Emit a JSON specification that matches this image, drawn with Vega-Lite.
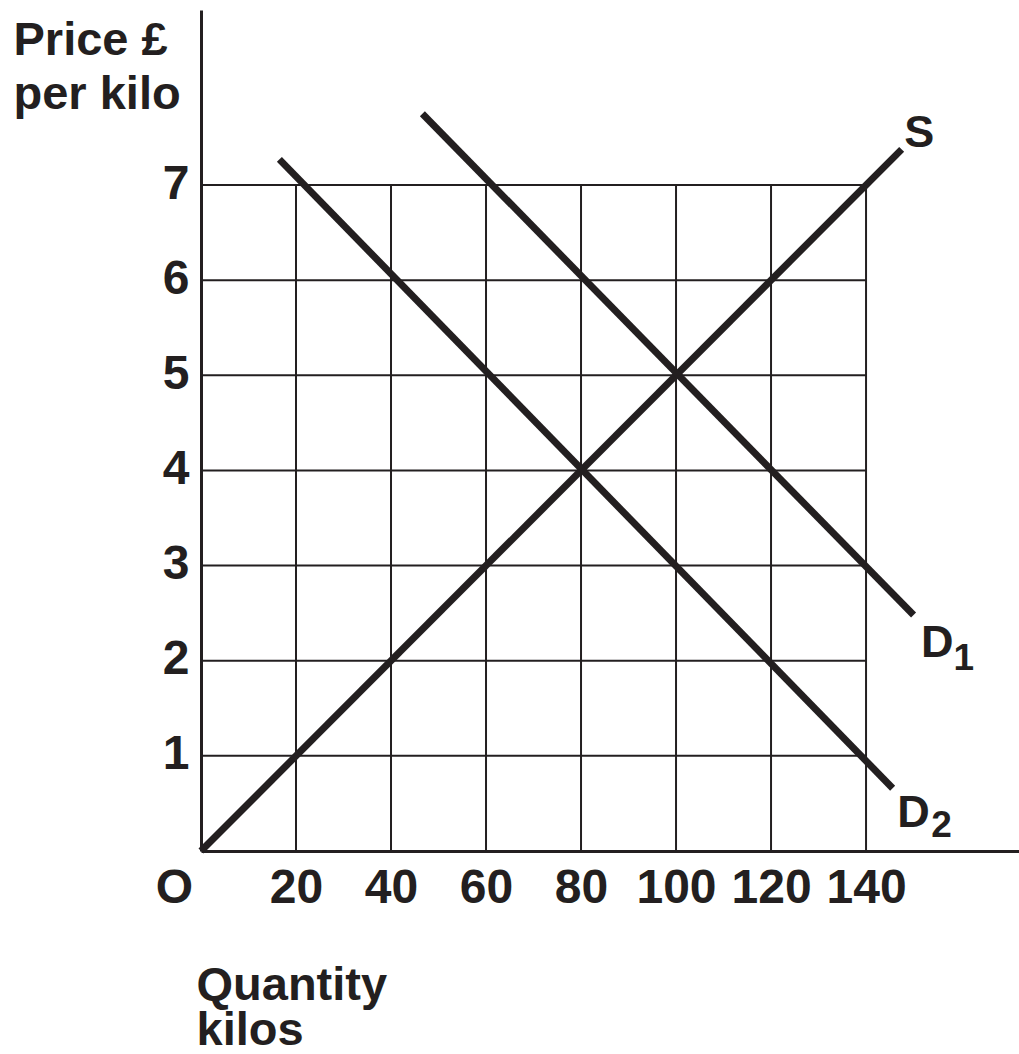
{
  "$schema": "https://vega.github.io/schema/vega-lite/v6.json",
  "width": 818,
  "height": 841,
  "autosize": {"type": "none"},
  "padding": {"left": 201, "top": 10, "right": 0, "bottom": 203},
  "background": "white",
  "config": {
    "view": {"stroke": null},
    "axis": {
      "domainColor": "#231f20",
      "domainWidth": 3,
      "domainCap": "butt",
      "ticks": false,
      "tickSize": 0,
      "grid": false,
      "labelFont": "Liberation Sans",
      "labelFontWeight": "bold",
      "labelFontSize": 48,
      "labelColor": "#231f20",
      "labelOverlap": false,
      "labelFlush": false,
      "labelBound": false,
      "titleFont": "Liberation Sans",
      "titleFontWeight": "bold",
      "titleFontSize": 47,
      "titleColor": "#231f20"
    }
  },
  "datasets": {
    "grid": [
      {"q": 0, "q2": 140, "p": 1, "p2": 1},
      {"q": 0, "q2": 140, "p": 2, "p2": 2},
      {"q": 0, "q2": 140, "p": 3, "p2": 3},
      {"q": 0, "q2": 140, "p": 4, "p2": 4},
      {"q": 0, "q2": 140, "p": 5, "p2": 5},
      {"q": 0, "q2": 140, "p": 6, "p2": 6},
      {"q": 0, "q2": 140, "p": 7, "p2": 7},
      {"q": 20, "q2": 20, "p": 0, "p2": 7},
      {"q": 40, "q2": 40, "p": 0, "p2": 7},
      {"q": 60, "q2": 60, "p": 0, "p2": 7},
      {"q": 80, "q2": 80, "p": 0, "p2": 7},
      {"q": 100, "q2": 100, "p": 0, "p2": 7},
      {"q": 120, "q2": 120, "p": 0, "p2": 7},
      {"q": 140, "q2": 140, "p": 0, "p2": 7}
    ],
    "lines": [
      {"s": "S", "q": 0, "p": 0},
      {"s": "S", "q": 147.5, "p": 7.375},
      {"s": "D1", "q": 46.6, "p": 7.75},
      {"s": "D1", "q": 150, "p": 2.48},
      {"s": "D2", "q": 16.5, "p": 7.27},
      {"s": "D2", "q": 145.6, "p": 0.66}
    ],
    "mains": [
      {"label": "S", "q": 151.2, "p": 7.4},
      {"label": "D", "q": 155.0, "p": 2.034},
      {"label": "D", "q": 150.0, "p": 0.257}
    ],
    "subs": [
      {"label": "1", "q": 160.6, "p": 1.9},
      {"label": "2", "q": 155.9, "p": 0.142}
    ]
  },
  "layer": [
    {
      "data": {"name": "grid"},
      "mark": {"type": "rule", "color": "#231f20", "strokeWidth": 2},
      "encoding": {
        "x": {
          "field": "q",
          "type": "quantitative",
          "scale": {"domain": [0, 172.2], "nice": false, "zero": true},
          "axis": {
            "values": [0, 20, 40, 60, 80, 100, 120, 140],
            "format": "d",
            "labelExpr": "datum.value === 0 ? 'O' : datum.label",
            "labelOffset": {"condition": {"test": "datum.value === 0", "value": -27}, "value": 0},
            "labelBaseline": "alphabetic",
            "labelPadding": 51.5,
            "title": ["Quantity", "kilos"],
            "titleAngle": 0,
            "titleAlign": "left",
            "titleBaseline": "alphabetic",
            "titleX": -5,
            "titleY": 148,
            "titleLineHeight": 45
          }
        },
        "x2": {"field": "q2"},
        "y": {
          "field": "p",
          "type": "quantitative",
          "scale": {"domain": [0, 8.84], "nice": false, "zero": true},
          "axis": {
            "values": [1, 2, 3, 4, 5, 6, 7],
            "format": "d",
            "labelBaseline": "alphabetic",
            "labelAlign": "right",
            "labelOffset": 13,
            "labelPadding": 12,
            "title": ["Price £", "per kilo"],
            "titleAngle": 0,
            "titleAlign": "left",
            "titleBaseline": "alphabetic",
            "titleX": -188,
            "titleY": 44,
            "titleLineHeight": 54
          }
        },
        "y2": {"field": "p2"}
      }
    },
    {
      "data": {"name": "lines"},
      "mark": {"type": "line", "color": "#231f20", "strokeWidth": 7, "strokeCap": "butt"},
      "encoding": {
        "x": {"field": "q", "type": "quantitative"},
        "y": {"field": "p", "type": "quantitative"},
        "detail": {"field": "s"},
        "order": {"field": "q"}
      }
    },
    {
      "data": {"name": "mains"},
      "mark": {"type": "text", "font": "Liberation Sans", "fontWeight": "bold", "fontSize": 45, "baseline": "alphabetic", "align": "center", "color": "#231f20"},
      "encoding": {
        "x": {"field": "q", "type": "quantitative"},
        "y": {"field": "p", "type": "quantitative"},
        "text": {"field": "label"}
      }
    },
    {
      "data": {"name": "subs"},
      "mark": {"type": "text", "font": "Liberation Sans", "fontWeight": "bold", "fontSize": 37, "baseline": "alphabetic", "align": "center", "color": "#231f20"},
      "encoding": {
        "x": {"field": "q", "type": "quantitative"},
        "y": {"field": "p", "type": "quantitative"},
        "text": {"field": "label"}
      }
    }
  ]
}
